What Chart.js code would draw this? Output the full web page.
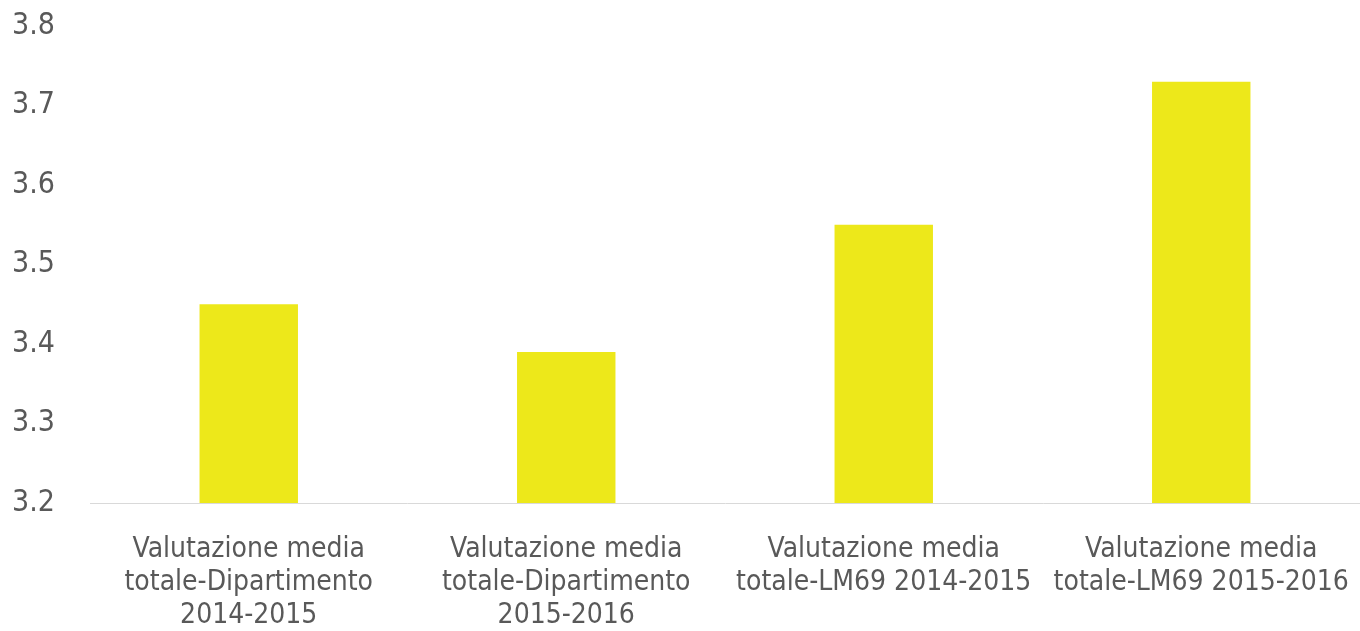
<!DOCTYPE html>
<html>
<head>
<meta charset="utf-8">
<script src="https://cdn.jsdelivr.net/npm/chart.js@4/dist/chart.umd.min.js"></script>
<style>
  html, body { margin: 0; padding: 0; background: #fff; }
  #wrap { width: 1360px; height: 631px; }
</style>
</head>
<body>
<div id="wrap"><canvas id="barChart" width="1360" height="631"></canvas></div>
<script>
const categories = [
    ["Valutazione media", "totale-Dipartimento", "2014-2015"],
    ["Valutazione media", "totale-Dipartimento", "2015-2016"],
    ["Valutazione media", "totale-LM69 2014-2015"],
    ["Valutazione media", "totale-LM69 2015-2016"]
];
const valori = [3.45, 3.39, 3.55, 3.73];
const yMin = 3.2;
const yMax = 3.8;
const yTicks = [3.2, 3.3, 3.4, 3.5, 3.6, 3.7, 3.8];

const fontFamily = "'DejaVu Sans Condensed', 'Liberation Sans Narrow', sans-serif";
const grigio = '#595959';

const ctx = document.getElementById('barChart').getContext('2d');
new Chart(ctx, {
    type: 'bar',
    data: {
        labels: categories,
        datasets: [{
            data: valori,
            backgroundColor: '#ede81a',
            barPercentage: 0.31,
            categoryPercentage: 1
        }]
    },
    options: {
        responsive: false,
        animation: false,
        layout: { padding: { top: 26, right: 0, left: 0, bottom: 0 } },
        plugins: { legend: { display: false }, tooltip: { enabled: false } },
        scales: {
            x: {
                grid: { display: false, drawTicks: false },
                border: { display: true, color: '#d9d9d9', width: 1 },
                ticks: {
                    color: grigio,
                    font: { family: fontFamily, size: 28, lineHeight: 1.18 },
                    maxRotation: 0,
                    autoSkip: false,
                    padding: 30
                },
                afterFit: scale => {
                    scale.height = 128;
                    scale.paddingLeft = 0;
                    scale.paddingRight = 0;
                }
            },
            y: {
                min: yMin,
                max: yMax,
                grid: { display: false, drawTicks: false },
                border: { display: false },
                afterBuildTicks: scale => {
                    scale.ticks = yTicks.map(v => ({ value: v }));
                },
                ticks: {
                    color: grigio,
                    font: { family: fontFamily, size: 30 },
                    padding: 35,
                    callback: v => v.toFixed(1)
                },
                afterFit: scale => {
                    scale.width = 90;
                    scale.paddingTop = 0;
                    scale.paddingBottom = 0;
                }
            }
        }
    }
});
</script>
</body>
</html>
